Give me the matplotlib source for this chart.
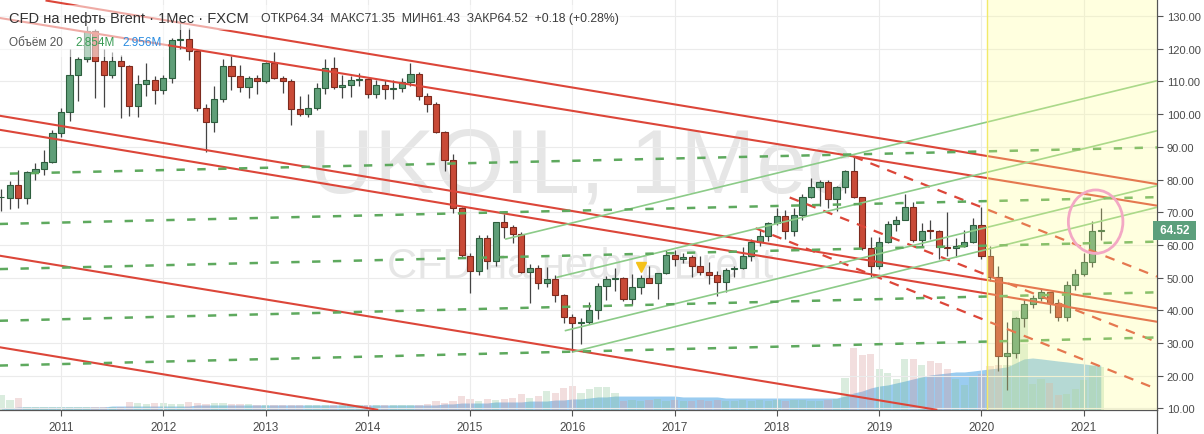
import numpy as np
import matplotlib.pyplot as plt
from matplotlib.patches import Ellipse, Rectangle
from matplotlib.lines import Line2D
from matplotlib.transforms import blended_transform_factory

plt.rcParams['font.family'] = ['Liberation Sans', 'DejaVu Sans']
plt.rcParams['lines.scale_dashes'] = False

# monthly candles, Jun 2010 .. Mar 2021 (index 0 = Jan 2011)
months = np.arange(-7, 123)
opens = [74.5, 74.3, 78.3, 74.3, 82.2, 83.2, 85.5,
         94.1, 100.6, 112.0, 117.0, 125.5, 116.3, 112.0, 116.3, 114.8, 102.4, 109.1, 110.4,
         107.4, 110.9, 122.8, 122.9, 119.2, 101.8, 97.5, 104.6, 114.6, 111.7, 108.2, 110.9,
         110.2, 115.6, 110.9, 110.0, 101.6, 99.9, 101.8, 107.9, 114.0, 108.2, 108.9, 110.4,
         110.6, 106.3, 108.9, 107.6, 108.0, 109.7, 112.3, 105.4, 103.1, 94.6, 85.9, 71.2,
         56.7, 52.1, 62.0, 55.2, 66.9, 65.4, 63.3, 51.6, 52.8, 48.5, 49.6, 44.6,
         37.8, 36.1, 36.5, 40.1, 47.3, 49.6, 49.8, 43.5, 47.0, 50.0, 48.4, 51.3,
         56.9, 55.7, 56.4, 53.6, 51.8, 50.8, 48.7, 52.6, 52.8, 56.7, 61.0, 62.6,
         66.6, 68.7, 64.4, 69.1, 74.6, 77.6, 79.1, 74.0, 77.6, 82.7, 74.5, 59.0,
         53.5, 61.0, 66.4, 67.6, 71.5, 61.6, 64.4, 64.2, 59.3, 59.2, 59.6, 61.0,
         66.2, 56.5, 50.1, 25.9, 26.8, 37.5, 41.9, 43.7, 45.5, 42.2, 37.8, 47.7,
         51.2, 54.9, 64.34]
highs = [77.0, 79.5, 83.0, 82.5, 85.0, 89.0, 95.0,
         102.0, 119.8, 117.5, 127.0, 126.0, 120.0, 119.0, 118.0, 115.0, 112.0, 115.5, 111.5,
         112.0, 123.3, 128.3, 126.3, 120.0, 103.0, 108.5, 117.0, 117.9, 115.0, 111.5, 112.0,
         116.0, 119.0, 111.5, 110.7, 105.5, 106.0, 109.5, 117.0, 117.4, 112.0, 111.5, 112.5,
         110.9, 110.3, 110.5, 110.5, 111.0, 115.7, 113.0, 106.5, 103.7, 94.9, 87.7, 71.5,
         57.5, 63.0, 62.9, 67.1, 69.6, 66.1, 64.0, 54.2, 54.0, 53.1, 50.9, 45.0,
         38.9, 37.7, 42.4, 48.5, 50.5, 52.8, 50.2, 51.1, 50.8, 53.7, 51.5, 58.4,
         58.4, 57.4, 56.8, 56.5, 54.7, 52.0, 52.8, 53.5, 59.5, 61.7, 64.6, 67.1,
         71.3, 70.6, 71.3, 75.6, 80.5, 80.0, 80.0, 78.1, 83.0, 86.9, 74.8, 62.5,
         62.5, 67.4, 68.9, 75.6, 73.2, 66.6, 67.7, 64.6, 70.0, 62.0, 64.6, 68.1,
         71.5, 59.8, 53.4, 36.3, 38.0, 43.5, 44.8, 46.5, 45.7, 43.4, 49.0, 52.5,
         57.4, 67.4, 71.35]
lows = [70.5, 71.0, 71.2, 72.5, 80.0, 81.5, 85.0,
        93.0, 98.0, 104.0, 116.0, 105.0, 102.2, 111.0, 98.7, 99.5, 99.0, 105.5, 103.0,
        106.0, 109.5, 120.0, 116.5, 101.0, 88.5, 94.5, 103.8, 107.5, 106.7, 105.0, 106.0,
        109.5, 110.8, 106.5, 96.8, 99.5, 99.0, 101.3, 106.0, 107.8, 105.0, 105.2, 108.6,
        104.8, 104.9, 104.6, 104.7, 106.9, 108.6, 104.3, 100.7, 94.3, 82.6, 69.8, 56.2,
        45.2, 50.8, 52.6, 53.5, 62.1, 60.5, 51.3, 42.2, 46.6, 47.0, 42.4, 36.1,
        27.3, 29.7, 35.8, 37.2, 43.0, 46.0, 42.9, 41.6, 44.9, 48.2, 43.4, 51.0,
        53.6, 54.4, 50.3, 50.8, 48.1, 44.3, 45.7, 50.3, 52.5, 55.0, 59.8, 61.1,
        66.0, 61.7, 62.7, 67.5, 74.4, 71.9, 71.2, 70.3, 75.8, 74.3, 58.4, 50.1,
        52.5, 60.5, 64.4, 67.6, 60.8, 59.5, 61.7, 55.8, 56.7, 56.2, 59.3, 60.6,
        55.6, 49.1, 21.4, 15.7, 25.5, 34.8, 40.7, 42.8, 39.3, 36.6, 36.7, 46.3,
        50.4, 53.2, 61.43]
closes = [74.8, 78.3, 74.3, 82.2, 83.2, 85.5, 94.1,
          100.6, 112.0, 117.0, 125.5, 116.3, 112.0, 116.3, 114.8, 102.4, 109.1, 110.4, 107.4,
          110.9, 122.8, 122.9, 119.2, 101.8, 97.5, 104.6, 114.6, 111.7, 108.2, 110.9, 110.2,
          115.6, 110.9, 110.0, 101.6, 99.9, 101.8, 107.9, 114.0, 108.2, 108.9, 110.4, 110.6,
          106.3, 108.9, 107.6, 108.0, 109.7, 112.3, 105.4, 103.1, 94.6, 85.9, 71.2, 56.9,
          52.1, 62.0, 55.2, 66.9, 65.4, 63.3, 51.6, 52.8, 48.5, 49.6, 44.6, 37.8,
          36.1, 36.5, 40.1, 47.3, 49.6, 49.7, 43.5, 47.0, 50.0, 48.4, 51.3, 56.9,
          55.7, 56.4, 53.6, 51.8, 50.8, 48.7, 52.4, 52.8, 56.7, 61.0, 62.6, 66.6,
          68.7, 64.4, 69.1, 74.6, 77.6, 79.1, 74.0, 77.6, 82.7, 74.5, 59.0, 53.5,
          61.0, 66.4, 67.6, 71.5, 61.6, 64.4, 64.2, 59.3, 59.2, 59.6, 61.0, 66.2,
          56.5, 50.1, 25.9, 26.8, 37.5, 41.9, 43.7, 45.5, 42.2, 37.8, 47.7, 51.2,
          54.9, 64.4, 64.52]

# volume (millions) and its 20-period average
volume = [0.99, 0.66, 0.79, 0.20, 0.20, 0.20, 0.20,
          0.20, 0.20, 0.20, 0.20, 0.20, 0.20, 0.20, 0.20, 0.53, 0.46, 0.40, 0.46,
          0.46, 0.40, 0.40, 0.53, 0.46, 0.40, 0.46, 0.46, 0.40, 0.40, 0.40, 0.33,
          0.33, 0.33, 0.33, 0.33, 0.33, 0.33, 0.33, 0.33, 0.33, 0.33, 0.33, 0.33,
          0.33, 0.33, 0.33, 0.33, 0.33, 0.33, 0.33, 0.40, 0.59, 0.46, 0.59, 0.92,
          0.73, 0.59, 0.73, 0.66, 0.73, 0.79, 1.06, 0.79, 0.92, 1.25, 1.12, 1.45,
          1.58, 1.12, 1.39, 1.52, 1.52, 1.12, 0.59, 0.66, 0.59, 0.66, 0.73, 0.59,
          0.66, 0.59, 0.59, 0.66, 0.59, 0.66, 0.59, 0.59, 0.66, 0.59, 0.66, 0.59,
          0.66, 0.59, 0.66, 0.66, 0.59, 0.59, 0.66, 0.73, 2.11, 4.09, 3.63, 3.70,
          2.71, 2.44, 2.05, 3.37, 3.37, 2.97, 3.23, 3.10, 2.71, 2.05, 1.65, 2.18,
          2.38, 2.90, 2.97, 2.97, 6.60, 6.60, 1.72, 2.05, 1.78, 0.99, 1.06, 1.39,
          1.98, 2.90, 2.854]
volume_ma = [0.07, 0.13, 0.20, 0.20, 0.20, 0.20, 0.20,
             0.20, 0.20, 0.20, 0.20, 0.20, 0.20, 0.26, 0.26, 0.26, 0.26, 0.26, 0.26,
             0.26, 0.26, 0.26, 0.26, 0.33, 0.33, 0.33, 0.33, 0.33, 0.33, 0.33, 0.33,
             0.33, 0.33, 0.33, 0.33, 0.33, 0.33, 0.33, 0.33, 0.33, 0.33, 0.33, 0.33,
             0.33, 0.33, 0.33, 0.33, 0.33, 0.33, 0.33, 0.33, 0.33, 0.40, 0.40, 0.46,
             0.46, 0.46, 0.46, 0.53, 0.53, 0.53, 0.53, 0.59, 0.59, 0.59, 0.66, 0.66,
             0.73, 0.73, 0.79, 0.86, 0.86, 0.92, 0.92, 0.92, 0.92, 0.92, 0.92, 0.92,
             0.92, 0.86, 0.86, 0.86, 0.86, 0.86, 0.79, 0.79, 0.79, 0.79, 0.79, 0.79,
             0.79, 0.79, 0.79, 0.79, 0.79, 0.79, 0.79, 0.79, 0.92, 1.12, 1.25, 1.45,
             1.58, 1.65, 1.78, 1.91, 2.05, 2.18, 2.31, 2.38, 2.44, 2.51, 2.51, 2.57,
             2.64, 2.71, 2.77, 2.84, 3.10, 3.37, 3.43, 3.37, 3.30, 3.23, 3.17, 3.10,
             3.04, 2.97, 2.956]

years = ['2011', '2012', '2013', '2014', '2015', '2016', '2017', '2018', '2019', '2020', '2021']
price_ticks = list(range(10, 140, 10))

# drawn trend lines: (month0, price0, month1, price1)
red_lines = [(-1.7, 134.7, 128.6, 78.6), (-7.2, 129.4, 128.6, 72.0),
             (-7.2, 99.5, 128.6, 40.6), (-7.2, 95.2, 128.6, 36.5),
             (-7.2, 56.7, 102.7, 9.6), (-7.2, 28.7, 37.1, 9.6)]
red_dashed = [(93.0, 87.0, 128.6, 50.3), (85.5, 74.5, 128.6, 30.3),
              (81.5, 65.1, 128.6, 15.9)]
green_lines = [(52.2, 61.8, 128.6, 110.2), (58.2, 50.1, 128.6, 94.9),
               (59.2, 33.8, 128.6, 78.1), (60.1, 27.3, 128.6, 71.5)]
green_dashed = [(-6.0, 81.8, 128.6, 89.8), (-7.2, 66.4, 128.6, 74.6),
                (-7.2, 52.6, 128.6, 61.0), (-7.2, 36.8, 128.6, 45.5),
                (-7.2, 23.1, 128.6, 31.7)]
highlight_start = 108.65
last_price = 64.52

W, H = 1204, 435
xlim = (-7.16, 128.6)
ylim = (9.51, 135.2)
rect = [0, 24 / H, 1157 / W, 411 / H]

fig = plt.figure(figsize=(W / 100, H / 100), dpi=100, facecolor='white')

# watermark
fig.text(580 / W, 1 - 193 / H, 'UKOIL, 1Мес', fontsize=65, color='#e6e6e6',
         ha='center', va='baseline', zorder=-2)
fig.text(580 / W, 1 - 278 / H, 'CFD на нефть Brent', fontsize=30, color='#e6e6e6',
         ha='center', va='baseline', zorder=-2)

# volume panel (underneath)
ax_v = fig.add_axes(rect)
ax_v.set_xlim(xlim)
ax_v.set_ylim(0, 27.1)
ax_v.axis('off')
ax_v.patch.set_visible(False)
ax_v.fill_between(months, volume_ma, 0, color='#6fb7ea', alpha=0.7, lw=0)
up = np.array(closes) >= np.array(opens)
ax_v.bar(months, volume, width=0.85, color=np.where(up, '#8cc49a', '#d99a9a'),
         alpha=0.32, lw=0)

# price panel
ax = fig.add_axes(rect)
ax.patch.set_visible(False)
ax.set_xlim(xlim)
ax.set_ylim(ylim)
ax.set_axisbelow(True)
ax.grid(color='#ebebeb', lw=0.8)

o = np.array(opens)
c = np.array(closes)
body_lo = np.minimum(o, c)
body_h = np.maximum(np.abs(c - o), 0.3)
ax.vlines(months, lows, highs, color='#444444', lw=0.9, zorder=3)
ax.bar(months, body_h, bottom=body_lo, width=0.72,
       color=np.where(up, '#5f9e78', '#c94a37'),
       edgecolor=np.where(up, '#2d5e3e', '#7d2a1e'), lw=0.8, zorder=4)

for m0, p0, m1, p1 in red_lines:
    ax.plot([m0, m1], [p0, p1], color='#dc4639', lw=1.5, zorder=5)
for m0, p0, m1, p1 in red_dashed:
    ax.plot([m0, m1], [p0, p1], color='#dc4639', lw=1.6, ls=(0, (7, 6)), zorder=5)
for m0, p0, m1, p1 in green_lines:
    ax.plot([m0, m1], [p0, p1], color='#8ccb88', lw=1.2, zorder=5)
for m0, p0, m1, p1 in green_dashed:
    ax.plot([m0, m1], [p0, p1], color='#5ea95e', lw=1.8, ls=(0, (6, 9)), zorder=5)

ax.plot(68, 53.1, marker='v', color='#f5c21b', markersize=7, zorder=6)

# highlighted period
ax.axvspan(highlight_start, xlim[1], color=(1, 1, 0.55), alpha=0.27, lw=0, zorder=7)
ax.axvline(highlight_start, color='#f2ea6a', lw=1, zorder=7)

ax.add_patch(Ellipse((121.4, 67.1), 6.4, 19.4, fill=False, ec='#f3a8c4', lw=2.0, zorder=8))

# axes
for s in ['top', 'left']:
    ax.spines[s].set_visible(False)
for s in ['right', 'bottom']:
    ax.spines[s].set_color('#555555')
    ax.spines[s].set_linewidth(0.9)
ax.yaxis.tick_right()
ax.set_yticks(price_ticks)
ax.set_yticklabels([f'{v:.2f}' for v in price_ticks])
ax.set_xticks(range(0, 121, 12))
ax.set_xticklabels(years)
ax.tick_params(axis='y', length=4, color='#555555', labelsize=8, labelcolor='#4a4a4a', pad=3)
ax.tick_params(axis='x', length=4, color='#555555', labelsize=8.5, labelcolor='#4a4a4a', pad=4)
fig.add_artist(Line2D([1157 / W, 1157 / W], [0, 24 / H], color='#555555', lw=0.9))

trans = blended_transform_factory(ax.transAxes, ax.transData)
ax.text(1.0, last_price, ' 64.52 ', transform=trans, ha='left', va='center',
        fontsize=8.5, color='white', fontweight='bold', clip_on=False, zorder=10,
        bbox=dict(boxstyle='square,pad=0.3', fc='#5c9f7c', ec='none'))

# legend block
fig.add_artist(Rectangle((0, 1 - 31 / H), 630 / W, 25 / H, transform=fig.transFigure,
                         fc='white', ec='none', alpha=0.55, zorder=5))
fig.add_artist(Rectangle((0, 1 - 58 / H), 168 / W, 27 / H, transform=fig.transFigure,
                         fc='white', ec='none', alpha=0.55, zorder=5))
fig.text(9 / W, 1 - 19 / H, 'CFD на нефть Brent · 1Мес · FXCM', fontsize=10.5,
         color='#333333', va='center', zorder=6)
fig.text(261 / W, 1 - 19 / H, 'ОТКР64.34  МАКС71.35  МИН61.43  ЗАКР64.52  +0.18 (+0.28%)',
         fontsize=8.8, color='#3c3c3c', va='center', zorder=6)
fig.text(9 / W, 1 - 43 / H, 'Объём 20', fontsize=8.5, color='#555555', va='center', zorder=6)
fig.text(75 / W, 1 - 43 / H, '2.854M', fontsize=8.5, color='#3a9c55', va='center', zorder=6)
fig.text(122 / W, 1 - 43 / H, '2.956M', fontsize=8.5, color='#2a8ce0', va='center', zorder=6)

fig.savefig('out.png', dpi=100, facecolor='white')
